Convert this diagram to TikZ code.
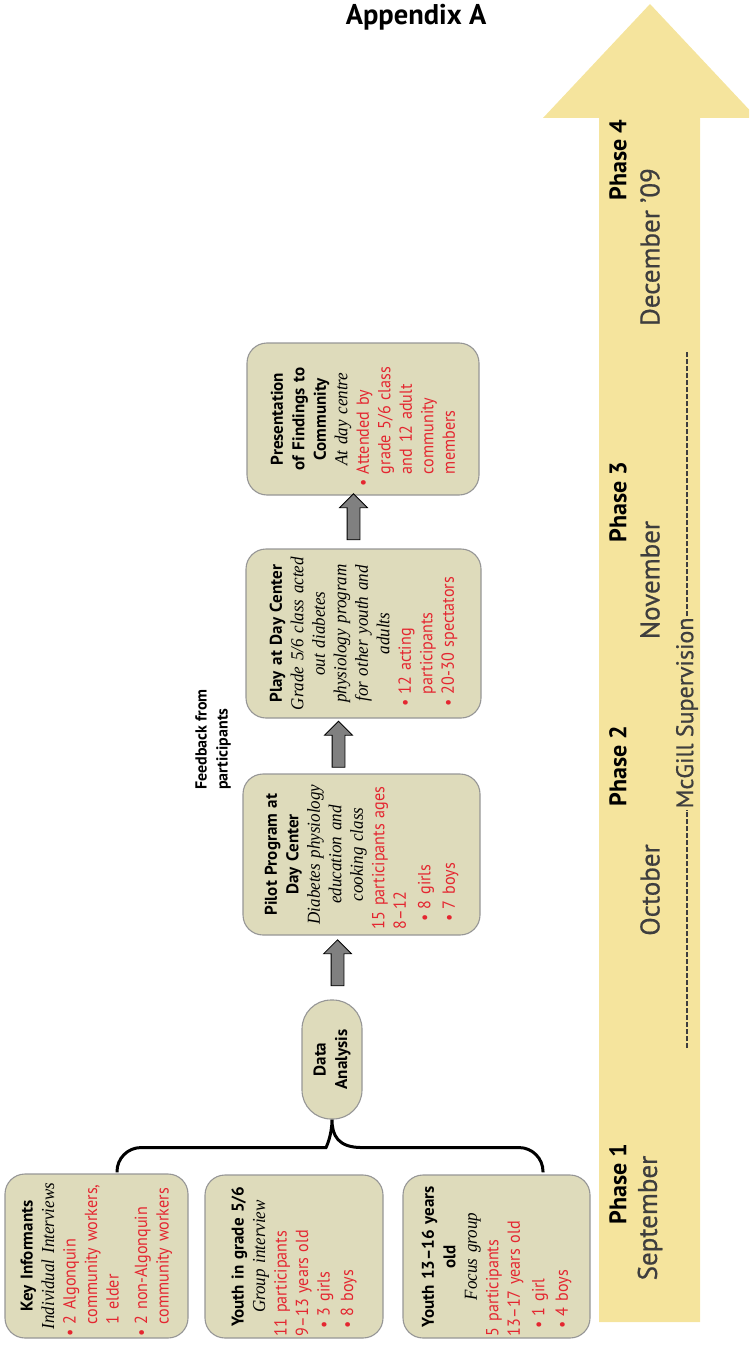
\documentclass[tikz,border=0pt]{standalone}
\usepackage{fontspec}
\setmainfont{PT Sans}
\newfontfamily\serifit{Liberation Serif}[FakeStretch=0.93]
\newfontfamily\redfont{PT Sans}[FakeStretch=0.92]
\newfontfamily\monthfont{PT Sans}[FakeBold=0.7]
\usetikzlibrary{shapes.arrows,calc}
\definecolor{boxfill}{RGB}{222,219,187}
\definecolor{boxline}{RGB}{150,150,150}
\definecolor{rd}{RGB}{228,38,48}
\definecolor{bigarrow}{RGB}{245,228,157}
\definecolor{arrowgray}{RGB}{128,128,128}
\definecolor{monthgray}{RGB}{62,62,62}
\newcommand\subit{\mdseries\serifit\itshape\fontsize{18.3}{21.5}\selectfont}
\newcommand\redtext{\leavevmode\color{rd}\redfont\mdseries\upshape\fontsize{17.5}{21.5}\selectfont}
\newcommand\mybul{\makebox[12pt][l]{•}}
\newcommand\mybuli{\hspace*{8pt}\makebox[12pt][l]{•}}
\newcommand\myind{\hspace*{12pt}}
\begin{document}
\begin{tikzpicture}[x=1pt,y=-1pt,
  box/.style={draw=boxline, fill=boxfill, line width=1.1pt, rounded corners=20pt,
    rotate=90, inner sep=0pt, align=left,
    font={\fontsize{17}{21.5}\selectfont\parindent=0pt\hyphenpenalty=10000\exhyphenpenalty=10000}},
  garrow/.style={single arrow, draw=black, fill=arrowgray, line width=0.8pt,
    rotate=90, minimum height=46pt, single arrow head extend=7.5pt, inner sep=6pt},
  phase/.style={rotate=90, inner sep=1pt, font={\fontsize{24}{28}\selectfont\bfseries}},
  month/.style={rotate=90, inner sep=1pt, text=monthgray, font={\fontsize{27}{31}\selectfont\monthfont}},
  mcg/.style={rotate=90, inner sep=1pt, text=monthgray, font={\fontsize{24}{28}\selectfont\monthfont}},
  mcgdash/.style={draw=monthgray, line width=1.2pt, dash pattern=on 5pt off 2pt},
  bracestyle/.style={draw=black, line width=3pt}
]
\useasboundingbox (0,0) rectangle (749,1348);

% big timeline arrow
\fill[bigarrow] (650,4) -- (749,109.5) -- (749,118) -- (700,118) -- (700,1322)
  -- (599,1322) -- (599,118) -- (543,118) -- cycle;

\node[font={\fontsize{28.5}{32}\selectfont\bfseries}] (title) at (416,17) {Appendix A};

% phases
\node[phase] (p4) at (618,160) {Phase 4};
\node[month] (m4) at (650,247) {December ’09};
\node[phase] (p3) at (618,502) {Phase 3};
\node[month] (m3) at (650,580) {November};
\node[phase] (p2) at (618,766) {Phase 2};
\node[month] (m2) at (650,890) {October};
\node[phase] (p1) at (618,1184) {Phase 1};
\node[month] (m1) at (650,1218) {September};

\node[mcg] (mcgill) at (687,713) {McGill Supervision};
\coordinate (mcgb) at (687,1048);
\coordinate (mcgt) at (687,352);
\draw[mcgdash] (mcgb) -- (mcgill.west);
\draw[mcgdash] (mcgill.east) -- (mcgt);

% first column boxes
\node[box, minimum width=164pt, minimum height=183pt, text width=160pt] (ki) at (96.5,1256)
{{\centering\bfseries Key Informants\\\subit Individual Interviews\par}
\redtext\mybul 2 Algonquin\\\myind community workers,\\\myind 1 elder\\[7pt]
\mybul 2 non-Algonquin\\\myind community workers};

\node[box, minimum width=163pt, minimum height=178pt, text width=159pt] (yg) at (294,1256.5)
{{\centering\bfseries Youth in grade 5/6\\\subit Group interview\par}
\redtext 11 participants\\9–13 years old\\\mybuli 3 girls\\[2pt]\mybuli 8 boys};

\node[box, minimum width=163pt, minimum height=187pt, text width=159pt] (yo) at (496.5,1256.5)
{{\centering\bfseries Youth 13–16 years\\old\\\subit Focus group\par}
\redtext 5 participants\\13–17 years old\\[3pt]\mybuli 1 girl\\[2pt]\mybuli 4 boys};

\node[box, rounded corners=29pt, minimum width=119pt, minimum height=60pt, text width=100pt, align=center] (da) at (332,1059.5)
{\bfseries Data\\Analysis};

\node[box, minimum width=161pt, minimum height=237pt, text width=149pt] (pilot) at (361.5,854.5)
{{\centering\bfseries Pilot Program at\\Day Center\\\subit Diabetes physiology\\education and\\cooking class\par}
\redtext 15 participants ages\\8–12\\[3pt]\mybuli 8 girls\\[3pt]\mybuli 7 boys};

\node[box, minimum width=169pt, minimum height=235pt, text width=145pt] (play) at (363.5,633.5)
{{\centering\bfseries Play at Day Center\\\subit\makebox[\linewidth]{Grade 5/6 class acted}\\out diabetes\\\makebox[\linewidth]{physiology program}\\\makebox[\linewidth]{for other youth and}\\adults\par}
\redtext\mybul 12 acting\\\myind participants\\\mybul 20-30 spectators};

\node[box, minimum width=152pt, minimum height=232pt, text width=134pt] (pres) at (363,419)
{{\centering\bfseries Presentation\\of Findings to\\Community\\\subit At day centre\par}
\redtext\mybul Attended by\\\myind grade 5/6 class\\\myind and 12 adult\\\myind community\\\myind members};

% block arrows
\node[garrow] (a1) at (337.5,966) {};
\node[garrow] (a2) at (338.5,747.5) {};
\node[garrow] (a3) at (353.5,520) {};

\node[rotate=90, anchor=west, inner sep=0pt, align=left,
  font={\fontsize{16}{21}\selectfont\bfseries}] (fb) at (213,790) {Feedback from\\participants};

% brace
\draw[bracestyle, rounded corners=24pt] ($(ki.east)+(20.5,-1)$) |- ($(da.west)+(-30,28)$)
  [sharp corners] .. controls ($(da.west)+(-6,28)$) and ($(da.west)+(0,16)$) .. (da.west)
  .. controls ($(da.west)+(0,16)$) and ($(da.west)+(6,28)$) .. ($(da.west)+(30,28)$)
  [rounded corners=24pt] -| ($(yo.east)+(46.5,-2)$);
\end{tikzpicture}
\end{document}
